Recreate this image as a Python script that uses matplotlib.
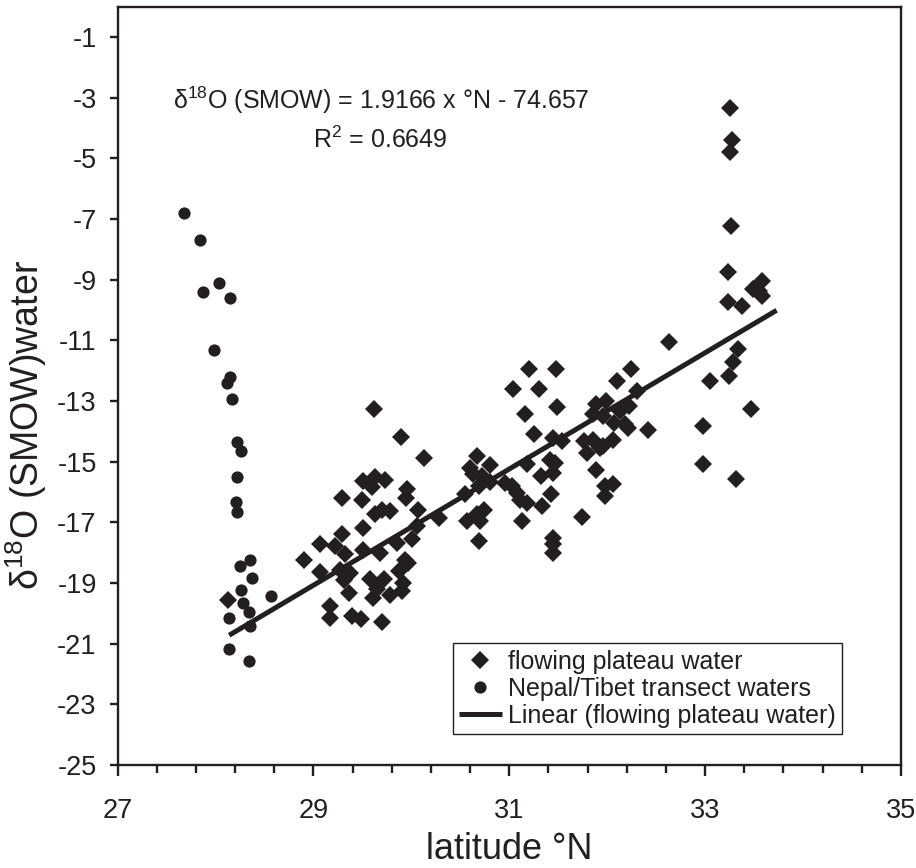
import matplotlib
matplotlib.use("Agg")
import matplotlib.pyplot as plt
import numpy as np

plt.rcParams['font.family'] = ['Liberation Sans', 'DejaVu Sans']
plt.rcParams['mathtext.fontset'] = 'custom'
plt.rcParams['mathtext.rm'] = 'Liberation Sans'
plt.rcParams['axes.unicode_minus'] = False

INK = '#231f20'

# flowing plateau water samples: latitude (°N) and d18O (SMOW)
plateau_lat = [
    28.13, 28.90, 29.07, 29.22, 29.32, 29.51, 29.68, 29.85, 30.01, 29.07,
    29.27, 29.37, 29.31, 29.94, 29.87, 29.58, 29.72, 29.65, 29.92, 29.90,
    29.36, 29.78, 29.61, 29.17, 29.17, 29.39, 29.49, 29.70, 29.97,
    29.62, 29.89, 30.13, 29.29, 29.51, 29.63, 29.73, 29.60, 29.50, 29.96,
    29.95, 30.07, 29.63, 29.70, 29.78, 30.28, 30.06, 29.51, 29.29,
    31.20, 31.48, 32.24, 31.04, 31.30, 32.10, 31.49, 31.16, 31.89, 31.99,
    31.86, 31.96, 32.13, 32.22, 32.07, 32.18, 32.21, 31.25, 31.45, 31.54,
    31.76, 31.86, 31.96, 32.06, 31.79, 31.93, 30.67, 30.80, 31.42, 31.47,
    30.60, 30.63, 30.72, 30.69, 30.80, 31.18, 31.32, 31.45, 31.89, 30.55,
    30.96, 31.03, 31.08, 31.11, 31.18, 31.98, 32.06, 31.98, 31.43, 31.33,
    30.74, 30.67, 30.57, 30.70, 31.13, 31.74, 30.69, 31.45, 31.45, 31.45,
    32.63, 33.05, 32.30, 32.42, 32.98, 32.98,
    33.25, 33.27, 33.25, 33.26, 33.23, 33.58, 33.49, 33.58, 33.55, 33.23,
    33.38, 33.34, 33.28, 33.24, 33.47, 33.32,
]
plateau_d18o = [
    -19.55, -18.25, -17.73, -17.79, -18.06, -17.90, -18.01, -17.68, -17.55, -18.65,
    -18.56, -18.67, -18.89, -18.23, -18.61, -18.88, -18.88, -19.21, -19.00, -19.28,
    -19.33, -19.39, -19.50, -19.75, -20.15, -20.10, -20.18, -20.27, -18.34,
    -13.25, -14.19, -14.88, -16.19, -15.65, -15.52, -15.59, -15.85, -16.25, -15.89,
    -16.19, -16.58, -16.74, -16.58, -16.63, -16.85, -17.13, -17.18, -17.40,
    -11.93, -11.93, -11.93, -12.59, -12.59, -12.34, -13.20, -13.44, -13.11, -13.00,
    -13.44, -13.50, -13.33, -13.18, -13.71, -13.76, -13.88, -14.10, -14.21, -14.32,
    -14.32, -14.27, -14.49, -14.27, -14.71, -14.54, -14.82, -15.10, -14.93, -15.04,
    -15.20, -15.42, -15.48, -15.81, -15.68, -15.09, -15.48, -15.37, -15.26, -16.08,
    -15.72, -15.81, -16.03, -16.25, -16.36, -15.81, -15.75, -16.14, -16.08, -16.47,
    -16.58, -16.74, -16.96, -16.96, -16.96, -16.83, -17.62, -17.51, -17.73, -18.01,
    -11.05, -12.34, -12.67, -13.94, -13.83, -15.09,
    -3.34, -4.39, -4.78, -7.22, -8.76, -9.04, -9.31, -9.53, -9.37, -9.73,
    -9.86, -11.29, -11.73, -12.18, -13.25, -15.56,
]

# Nepal/Tibet transect waters
transect_lat = [
    27.68, 27.84, 28.04, 27.87, 28.15, 27.99, 28.15, 28.12, 28.17, 28.22,
    28.26, 28.22, 28.21, 28.22, 28.35, 28.25, 28.37, 28.26, 28.57, 28.28,
    28.34, 28.14, 28.35, 28.14, 28.34,
]
transect_d18o = [
    -6.80, -7.69, -9.11, -9.40, -9.61, -11.32, -12.21, -12.42, -12.92, -14.35,
    -14.65, -15.49, -16.34, -16.67, -18.23, -18.45, -18.83, -19.24, -19.44, -19.66,
    -19.97, -20.15, -20.43, -21.18, -21.56,
]

# linear trend of the flowing plateau water
SLOPE = 1.9166
INTERCEPT = -74.657
R2 = 0.6649
trend_x = [28.14, 33.73]
trend_y = [SLOPE * x + INTERCEPT for x in trend_x]

# axis ticks
x_major = [27, 29, 31, 33, 35]
y_major = [-25, -23, -21, -19, -17, -15, -13, -11, -9, -7, -5, -3, -1]

fig = plt.figure(figsize=(9.16, 8.68), dpi=100)
ax = fig.add_axes([0.1283, 0.1187, 0.8553, 0.8736])

ax.plot(plateau_lat, plateau_d18o, linestyle='none', marker='D', markersize=9,
        markeredgewidth=0, color=INK, label='flowing plateau water', zorder=3)
ax.plot(transect_lat, transect_d18o, linestyle='none', marker='o', markersize=8.8,
        markeredgewidth=0, color=INK, label='Nepal/Tibet transect waters', zorder=3)
ax.plot(trend_x, trend_y, color=INK, linewidth=3.6, solid_capstyle='butt',
        label='Linear (flowing plateau water)', zorder=4)

ax.set_xlim(27, 35)
ax.set_ylim(-25, 0)
ax.set_xticks(x_major)
ax.set_xticks(np.arange(27, 35.001, 0.4), minor=True)
ax.set_yticks(y_major)

for s in ax.spines.values():
    s.set_linewidth(1.7)
    s.set_color(INK)
ax.tick_params(axis='both', which='both', direction='out', color=INK, width=1.7,
               labelsize=19.5, labelcolor=INK)
ax.tick_params(axis='x', which='major', length=8, pad=16)
ax.tick_params(axis='x', which='minor', length=6)
ax.tick_params(axis='y', which='major', length=6, pad=9)

ax.set_xlabel('latitude °N', fontsize=26, color=INK, labelpad=5.5)
ax.set_ylabel(r'δ$\mathregular{^{18}}$O (SMOW)water', fontsize=27, color=INK)
ax.yaxis.set_label_coords(-0.087, 0.448)

ax.text(0.336, 0.876, r'δ$\mathregular{^{18}}$O (SMOW) = %.4f x °N - %.3f' % (SLOPE, -INTERCEPT),
        transform=ax.transAxes, ha='center', va='center', fontsize=18, color=INK)
ax.text(0.336, 0.824, r'R$\mathregular{^{2}}$ = %.4f' % R2,
        transform=ax.transAxes, ha='center', va='center', fontsize=18, color=INK)

leg = ax.legend(loc='upper left', bbox_to_anchor=(0.428, 0.1605), borderaxespad=0,
                fontsize=18, numpoints=1, handlelength=1.7, handletextpad=0.25,
                labelspacing=0.12, borderpad=0.25, fancybox=False, framealpha=1,
                edgecolor=INK)
leg.get_frame().set_linewidth(1.0)
for t in leg.get_texts():
    t.set_color(INK)

fig.savefig('out.png', dpi=100)
